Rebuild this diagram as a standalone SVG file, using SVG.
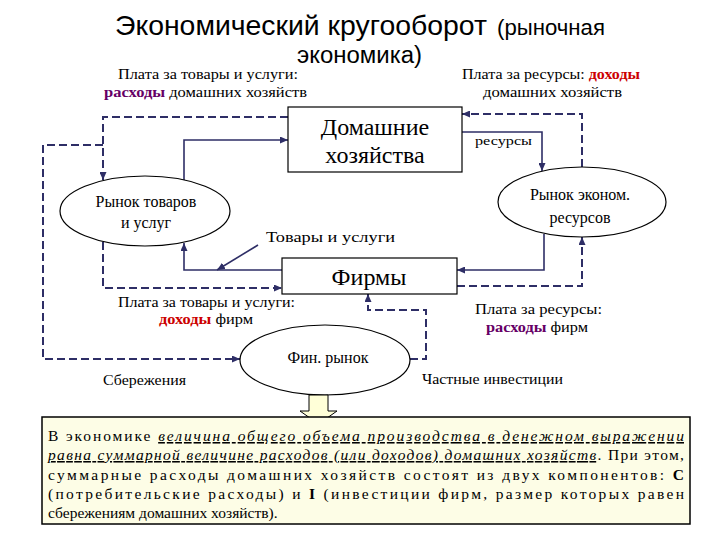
<svg xmlns="http://www.w3.org/2000/svg" width="720" height="540" viewBox="0 0 720 540">
<defs>
<marker id="ah" markerUnits="userSpaceOnUse" markerWidth="8" markerHeight="7" refX="8" refY="3.5" orient="auto">
<path d="M0,0 L8,3.5 L0,7 z" fill="#2e2e66"/>
</marker>
</defs>
<rect width="720" height="540" fill="#fff"/>

<g id="title">
<text font-family="Liberation Sans, Arial, sans-serif" x="115" y="35" font-size="28" textLength="372" lengthAdjust="spacingAndGlyphs">Экономический кругооборот</text>
<text font-family="Liberation Sans, Arial, sans-serif" x="497" y="35" font-size="22" textLength="108" lengthAdjust="spacingAndGlyphs">(рыночная</text>
<text font-family="Liberation Sans, Arial, sans-serif" x="297" y="63" font-size="23" textLength="125" lengthAdjust="spacingAndGlyphs">экономика)</text>
</g>

<g id="labels">
<text font-family="Times New Roman, Liberation Serif, serif" font-size="15" x="118" y="79" textLength="180" lengthAdjust="spacingAndGlyphs">Плата за товары и услуги:</text>
<text font-family="Times New Roman, Liberation Serif, serif" font-size="15" x="104" y="97" textLength="203" lengthAdjust="spacingAndGlyphs"><tspan fill="#660066" font-weight="bold">расходы</tspan> домашних хозяйств</text>
<text font-family="Times New Roman, Liberation Serif, serif" font-size="15" x="462" y="79" textLength="178" lengthAdjust="spacingAndGlyphs">Плата за ресурсы: <tspan fill="#cc0000" font-weight="bold">доходы</tspan></text>
<text font-family="Times New Roman, Liberation Serif, serif" font-size="15" x="483" y="97" textLength="139" lengthAdjust="spacingAndGlyphs">домашних хозяйств</text>
<text font-family="Times New Roman, Liberation Serif, serif" font-size="13" x="475" y="145" textLength="57" lengthAdjust="spacingAndGlyphs">ресурсы</text>
<text font-family="Times New Roman, Liberation Serif, serif" font-size="15" x="266" y="242" textLength="129" lengthAdjust="spacingAndGlyphs">Товары и услуги</text>
<text font-family="Times New Roman, Liberation Serif, serif" font-size="15" x="118" y="307" textLength="177" lengthAdjust="spacingAndGlyphs">Плата за товары и услуги:</text>
<text font-family="Times New Roman, Liberation Serif, serif" font-size="15" x="159" y="324" textLength="94" lengthAdjust="spacingAndGlyphs"><tspan fill="#cc0000" font-weight="bold">доходы</tspan> фирм</text>
<text font-family="Times New Roman, Liberation Serif, serif" font-size="15" x="475" y="314" textLength="127" lengthAdjust="spacingAndGlyphs">Плата за ресурсы:</text>
<text font-family="Times New Roman, Liberation Serif, serif" font-size="15" x="486" y="332" textLength="102" lengthAdjust="spacingAndGlyphs"><tspan fill="#660066" font-weight="bold">расходы</tspan> фирм</text>
<text font-family="Times New Roman, Liberation Serif, serif" font-size="15" x="103" y="385" textLength="83" lengthAdjust="spacingAndGlyphs">Сбережения</text>
<text font-family="Times New Roman, Liberation Serif, serif" font-size="15" x="422" y="384" textLength="141" lengthAdjust="spacingAndGlyphs">Частные инвестиции</text>
</g>

<g id="connectors" fill="none" stroke="#2e2e66">
<g stroke-width="2" stroke-dasharray="8 4">
<polyline points="288,117 103,117 103,180" marker-end="url(#ah)"/>
<polyline points="103,145 43,145 43,359 240,359" marker-end="url(#ah)"/>
<polyline points="103,242 103,288 282,288" marker-end="url(#ah)"/>
<polyline points="582,167 582,114 462,114" marker-end="url(#ah)"/>
<polyline points="457,286 582,286 582,237" marker-end="url(#ah)"/>
<polyline points="410,359 426,359 426,310 368,310 368,294" marker-end="url(#ah)"/>
</g>
<g stroke-width="1.6">
<polyline points="184,180 184,140 288,140" marker-end="url(#ah)"/>
<polyline points="282,270 184,270 184,243" marker-end="url(#ah)"/>
<line x1="258" y1="245" x2="217" y2="270" marker-end="url(#ah)"/>
<polyline points="462,132 542,132 542,171" marker-end="url(#ah)"/>
<polyline points="544,234 544,270 457,270" marker-end="url(#ah)"/>
</g>
</g>

<g id="households">
<rect x="288" y="107" width="174" height="65" fill="#fff" stroke="#000" stroke-width="1.2"/>
<text font-family="Times New Roman, Liberation Serif, serif" x="375" y="135" font-size="24" text-anchor="middle">Домашние</text>
<text font-family="Times New Roman, Liberation Serif, serif" x="375" y="163" font-size="24" text-anchor="middle">хозяйства</text>
</g>

<g id="goods-market">
<ellipse cx="145" cy="211" rx="85" ry="35" fill="#fff" stroke="#000" stroke-width="1.2"/>
<text font-family="Times New Roman, Liberation Serif, serif" x="146" y="207" font-size="16" text-anchor="middle">Рынок товаров</text>
<text font-family="Times New Roman, Liberation Serif, serif" x="146" y="228" font-size="16" text-anchor="middle">и услуг</text>
</g>

<g id="resource-market">
<ellipse cx="582" cy="202" rx="84" ry="35" fill="#fff" stroke="#000" stroke-width="1.2"/>
<text font-family="Times New Roman, Liberation Serif, serif" x="580" y="200" font-size="16" text-anchor="middle">Рынок эконом.</text>
<text font-family="Times New Roman, Liberation Serif, serif" x="580" y="223" font-size="16" text-anchor="middle">ресурсов</text>
</g>

<g id="firms">
<rect x="282" y="258" width="175" height="36" fill="#fff" stroke="#000" stroke-width="1.2"/>
<text font-family="Times New Roman, Liberation Serif, serif" x="369" y="285" font-size="24" text-anchor="middle">Фирмы</text>
</g>

<g id="fin-market">
<ellipse cx="325" cy="360" rx="85" ry="35" fill="#fff" stroke="#000" stroke-width="1.2"/>
<text font-family="Times New Roman, Liberation Serif, serif" x="328" y="363" font-size="16" text-anchor="middle">Фин. рынок</text>
</g>

<g id="big-arrow">
<path d="M309,395 L328,395 L328,411 L337,411 L318.5,424 L300,411 L309,411 z" fill="#ffffd8" stroke="#000" stroke-width="1"/>
</g>

<g id="note">
<rect x="42" y="417" width="648" height="107" fill="#fdfde6" stroke="#000" stroke-width="1.5"/>
<text font-family="Times New Roman, Liberation Serif, serif" font-size="15.5" x="48" y="441" textLength="636" lengthAdjust="spacing">В экономике <tspan font-style="italic" text-decoration="underline">величина общего объема производства в денежном выражении</tspan></text>
<text font-family="Times New Roman, Liberation Serif, serif" font-size="15.5" x="48" y="460" textLength="636" lengthAdjust="spacing"><tspan font-style="italic" text-decoration="underline">равна суммарной величине расходов (или доходов) домашних хозяйств</tspan>. При этом,</text>
<text font-family="Times New Roman, Liberation Serif, serif" font-size="15.5" x="48" y="480" textLength="636" lengthAdjust="spacing">суммарные расходы домашних хозяйств состоят из двух компонентов: <tspan font-weight="bold">С</tspan></text>
<text font-family="Times New Roman, Liberation Serif, serif" font-size="15.5" x="48" y="499" textLength="636" lengthAdjust="spacing">(потребительские расходы) и <tspan font-weight="bold">I</tspan> (инвестиции фирм, размер которых равен</text>
<text font-family="Times New Roman, Liberation Serif, serif" font-size="15.5" x="48" y="518">сбережениям домашних хозяйств).</text>
</g>
</svg>
